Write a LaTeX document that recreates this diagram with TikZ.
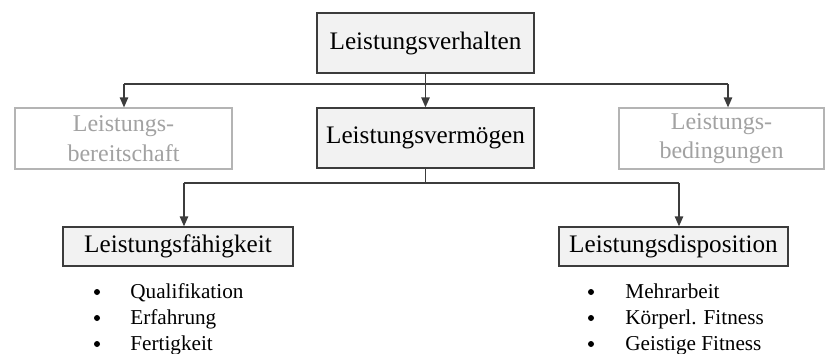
\documentclass[tikz,border=0pt]{standalone}
\usepackage{fontspec}
\setmainfont{Liberation Serif}
\usetikzlibrary{arrows.meta}
\definecolor{boxfill}{HTML}{F2F2F2}
\definecolor{linecol}{HTML}{3C3C3C}
\definecolor{fadetext}{HTML}{A2A2A2}
\definecolor{fadeline}{HTML}{B4B4B4}
\tikzset{
  mainbox/.style={draw=linecol, line width=0.65pt, fill=boxfill, inner sep=0pt,
    font=\fontsize{12.6}{15}\selectfont},
  fadebox/.style={draw=fadeline, line width=0.6pt, fill=white, inner sep=0pt,
    text=fadetext, align=center, font=\fontsize{12}{14.8}\selectfont},
  link/.style={draw=linecol, line width=0.7pt},
  arr/.style={link, -{Triangle[width=4.2pt,length=5pt]}},
  itemtext/.style={anchor=base west, inner sep=0pt, font=\fontsize{10.6}{12}\selectfont},
  itembullet/.style={circle, fill=black, inner sep=0pt, minimum size=3pt}
}
\begin{document}
\begin{tikzpicture}[x=0.5pt, y=-0.5pt]
  \useasboundingbox (0,0) rectangle (826,354);

  % boxes
  \node[mainbox, minimum width=108.5pt, minimum height=30pt] (top) at (425.5,43) {Leistungsverhalten};
  \node[fadebox, minimum width=108.5pt, minimum height=30.5pt] (bereit) at (123.5,138.5) {Leistungs-\\bereitschaft};
  \node[mainbox, minimum width=108.5pt, minimum height=30pt] (verm) at (425.5,138) {Leistungsvermögen};
  \node[fadebox, minimum width=102.5pt, minimum height=30.5pt] (bed) at (721.5,138.5) {Leistungs-\\bedingungen};
  \node[mainbox, minimum width=115pt, minimum height=19.5pt] (faeh) at (178,246.5) {Leistungsfähigkeit};
  \node[mainbox, minimum width=114.5pt, minimum height=19.5pt] (disp) at (673.5,246.5) {Leistungsdisposition};

  % upper branching
  \coordinate (busL) at (124,84);
  \coordinate (busR) at (728,84);
  \draw[link] (top.south) -- (top.south |- busL);
  \draw[link] (busL) -- (busR);
  \draw[arr] (busL) -- (busL |- bereit.north);
  \draw[arr] (busR) -- (busR |- bed.north);
  \draw[arr] (top.south) -- (verm.north);

  % lower branching
  \coordinate (lowL) at (184,183);
  \coordinate (lowR) at (679,183);
  \draw[link] (verm.south) -- (verm.south |- lowL);
  \draw[link] (lowL) -- (lowR);
  \draw[arr] (lowL) -- (lowL |- faeh.north);
  \draw[arr] (lowR) -- (lowR |- disp.north);

  % item lists
  \node[itembullet] (b1) at (97,292) {};
  \node[itembullet] (b2) at (97,318) {};
  \node[itembullet] (b3) at (97,344) {};
  \node[itemtext] (t1) at (130,298) {Qualifikation};
  \node[itemtext] (t2) at (130,324) {Erfahrung};
  \node[itemtext] (t3) at (130,350) {Fertigkeit};

  \node[itembullet] (b4) at (591,292) {};
  \node[itembullet] (b5) at (591,318) {};
  \node[itembullet] (b6) at (591,344) {};
  \node[itemtext] (t4) at (625,298) {Mehrarbeit};
  \node[itemtext] (t5) at (625,324) {Körperl. Fitness};
  \node[itemtext] (t6) at (625,350) {Geistige Fitness};
\end{tikzpicture}
\end{document}
